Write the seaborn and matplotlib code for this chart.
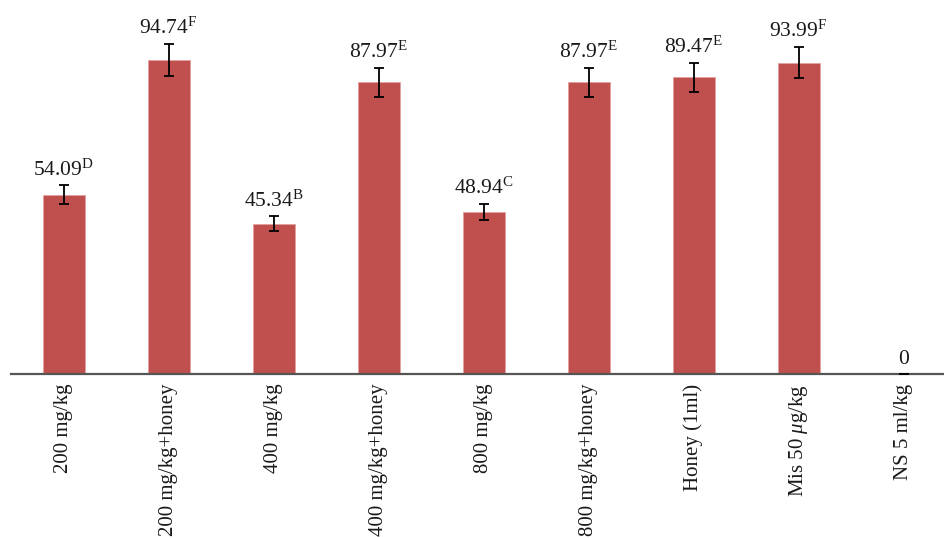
import matplotlib
matplotlib.use("Agg")
import matplotlib.pyplot as plt
import seaborn as sns
import numpy as np

categories = ["200 mg/kg", "200 mg/kg+honey", "400 mg/kg", "400 mg/kg+honey",
              "800 mg/kg", "800 mg/kg+honey", "Honey (1ml)", r"Mis 50 $\mu$g/kg", "NS 5 ml/kg"]
values = [54.09, 94.74, 45.34, 87.97, 48.94, 87.97, 89.47, 93.99, 0]
errors = [2.9, 4.9, 2.3, 4.4, 2.5, 4.4, 4.5, 4.7, 0]
letters = ["D", "F", "B", "E", "C", "E", "E", "F", ""]

sns.set_style("white")
plt.rcParams["font.family"] = ["Liberation Serif", "DejaVu Serif"]
plt.rcParams["mathtext.fontset"] = "custom"
plt.rcParams["mathtext.rm"] = "Liberation Serif"
plt.rcParams["mathtext.it"] = "Liberation Serif:italic"
plt.rcParams["mathtext.bf"] = "Liberation Serif:bold"

fig = plt.figure(figsize=(9.44, 5.38), dpi=100)
ax = fig.add_axes([11/944, 1 - 374/538, 1 - 11/944, 374/538])

x = np.arange(len(categories))
sns.barplot(x=categories, y=values, color="#C0504D", saturation=1, width=0.4,
            edgecolor="#E3A09E", linewidth=0.6, ax=ax)
ax.errorbar(x, values, yerr=errors, fmt="none", ecolor="black",
            elinewidth=1.3, capsize=3.6, capthick=1.3, zorder=5)

for xi, v, e, l in zip(x, values, errors, letters):
    txt = f"{v:.2f}" if v != 0 else "0"
    if l:
        txt += r"$^{\mathrm{" + l + "}}$"
    ax.annotate(txt, (xi, v + e), xytext=(0, 7), textcoords="offset points",
                ha="center", va="baseline", fontsize=15.5, color="#1a1a1a")

ax.set_xlim(-0.5, (944 - 63.5) / 105)
ax.set_ylim(0, 374 / 3.314)
for s in ["top", "left", "right"]:
    ax.spines[s].set_visible(False)
ax.spines["bottom"].set_color("#555555")
ax.spines["bottom"].set_linewidth(1.6)
ax.set_yticks([])
ax.set_xticks(x)
ax.set_xticklabels(categories, rotation=90, va="top", ha="center", fontsize=15, color="#1a1a1a")
ax.tick_params(axis="x", length=0, pad=7)
ax.set_xlabel("")
ax.set_ylabel("")

fig.savefig("out.png", dpi=100)
